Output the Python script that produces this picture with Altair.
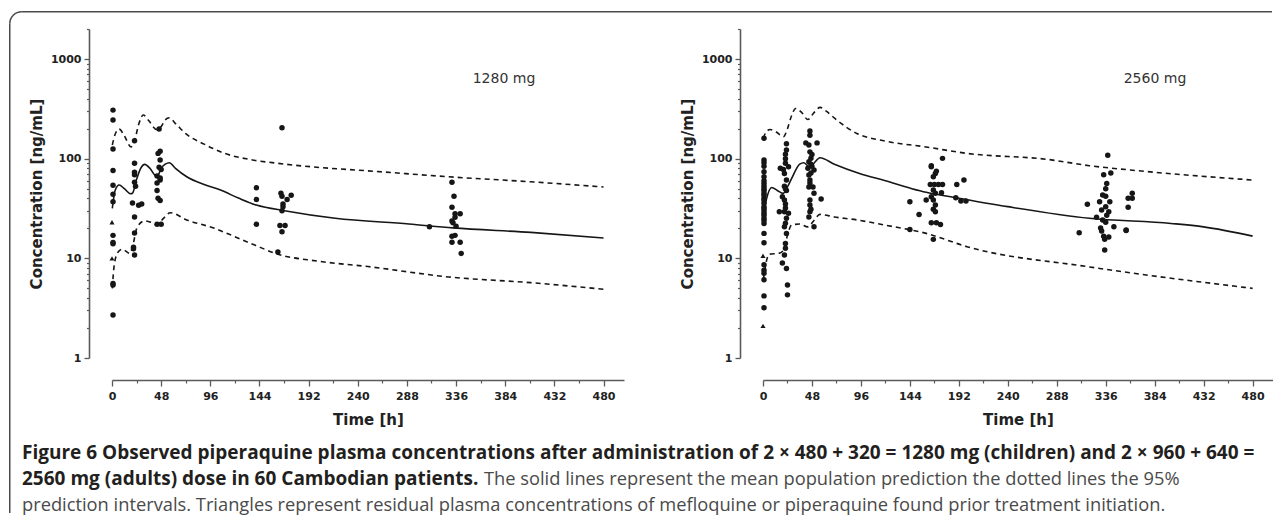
import altair as alt
import pandas as pd

# ---------------- data: left panel (1280 mg) ----------------
l_obs_t = [1, 1, 1, 1, 1, 1, 1, 1, 1, 1, 1, 1, 1,
           22, 22, 22, 22, 22, 23, 20, 26, 29, 22, 22, 21, 21, 22,
           46, 47, 45, 47, 46, 48, 44, 47, 47, 44, 44, 45, 47, 44, 48,
           141, 141, 141,
           166, 165, 166, 175, 171, 167, 167, 166, 164, 169, 166, 162,
           310,
           332, 334, 332, 335, 340, 335, 332, 333, 336, 332, 335, 332, 340, 341]
l_obs_c = [307, 244, 125, 76, 54, 44, 37, 17, 14.4, 14, 5.6, 5.4, 2.7,
           151, 90, 73, 69, 58, 53, 36, 34, 35, 26, 18, 12.9, 12.5, 10.8,
           198, 119, 113, 97, 82, 78, 67, 64, 61, 57, 48, 40, 38, 22, 22,
           51, 39, 22,
           204, 45, 42, 43, 39, 35, 33, 30, 21.4, 21.4, 18.5, 11.6,
           20.7,
           58, 42, 32.5, 28, 28, 25.8, 23.7, 22.8, 21, 16.7, 17, 14.5, 14.5, 11.2]
l_tri_t = [0, 0]
l_tri_c = [23, 10]
l_mean_t = [0.3, 3, 7, 12, 18, 20, 24, 28, 32, 37, 42, 44, 48, 52, 56, 62, 73, 90, 106,
            124, 141, 170, 218, 290, 333, 409, 480]
l_mean_c = [31.7, 48, 54.4, 50, 44.5, 45, 62, 80, 87.7, 80, 68, 65.8, 80, 88, 91, 80, 65.8, 55, 48.4,
            40, 34.2, 29.9, 25.2, 22.1, 20.2, 18.2, 16]
l_hi_t = [0.3, 3, 7, 12, 18.6, 22, 26, 30.6, 36, 43.7, 48, 52, 56, 62, 73, 90, 110, 135,
          162, 200, 250, 329, 409, 480]
l_hi_c = [137, 175, 198, 170, 131, 150, 220, 274, 240, 196, 210, 245, 257, 225, 175, 140, 113, 98,
          89.8, 82, 75.5, 65.8, 58.6, 52]
l_lo_t = [0.3, 2.2, 6, 10, 17.6, 20, 24.7, 32, 38, 43.7, 50, 57, 73, 100, 114, 140, 162,
          200, 250, 329, 409, 480]
l_lo_c = [5.0, 8.6, 11.6, 12.3, 11.2, 13, 20.7, 23.7, 23, 21.6, 25, 28.7, 24.3, 20, 17.5, 13.5, 11,
          9.4, 8.27, 6.5, 5.7, 4.9]

# ---------------- data: right panel (2560 mg) ----------------
r_obs_t = [1, 1, 1, 1, 1, 1, 1, 1, 1, 1, 1, 1, 1, 1, 1, 1, 1, 1, 1, 1, 1, 1, 1,
           1, 1, 1, 1, 1, 1, 1, 1, 1,
           23, 23, 22, 17, 20, 25, 21, 23, 21, 23, 19, 21, 16, 21, 25, 23, 21, 23, 22, 22,
           21, 19, 23, 24, 24, 22, 22, 22, 22, 22, 22,
           46, 46, 42, 53, 45, 46, 47, 45, 48, 44, 50, 45, 46, 49, 45, 50, 46, 46, 46, 45,
           50, 57, 48, 47, 47, 46, 47,
           144, 144, 153, 160, 165, 165, 169, 167, 164, 168, 172, 170, 167, 169, 165, 167,
           169, 167, 169, 165, 170, 174, 167, 176, 175, 176, 190, 197, 189, 194, 199,
           310, 318, 327, 338, 334, 341, 336, 337, 333, 336, 340, 330, 336, 332, 339, 337,
           333, 336, 331, 332, 334, 339, 335, 335, 344, 356, 356, 358, 362, 362, 358]
r_obs_c = [160, 97, 91, 84, 74, 66, 56.5, 53, 48, 45, 40, 35.6, 31.7, 28.3, 25.2, 22.4,
           17.8, 14.3, 7.6, 7.1, 6.1, 4.2, 3.2,
           60, 50, 43, 38, 33, 30, 27, 24, 8.6,
           141, 122, 111, 80, 78, 83, 71, 61, 53, 48, 41.5, 38.5, 29.4, 29.4, 28.3, 25.2,
           20.7, 17.8, 14.1, 12.6, 10.8, 9, 7.9, 5.4, 4.3, 100, 90, 50, 35, 32, 22.5,
           190, 172, 144, 144, 137, 117, 101, 93, 84, 80, 77, 68.5, 61, 52, 52, 45, 38.5,
           34.3, 29.4, 26, 20.7, 39.3, 110, 88, 72, 57, 31,
           36.9, 19.5, 27.6, 38.5, 84.8, 83, 71, 65.8, 55, 55, 55, 75, 48.4, 44.9, 41.5,
           38.5, 34.3, 31, 29.4, 22.8, 22.8, 21.9, 15.5, 100.7, 45.5, 55, 55, 61, 40.5,
           37.6, 37.6,
           18.1, 34.8, 25.8, 108, 69, 72, 50, 56.5, 43.2, 42, 37, 37, 32.9, 30.5, 29.4, 27,
           24.3, 23, 20.2, 18.8, 16.7, 16.4, 15.5, 12.1, 20.7, 19.2, 19, 40, 44.9, 40, 32.5]
r_tri_t = [0, 0]
r_tri_c = [10.6, 2.1]
r_mean_t = [0.5, 3.6, 8.5, 14, 19.9, 24, 28, 36, 40, 46, 50, 55.8, 70, 94.6, 120, 146,
            160, 184, 240, 320, 400, 432, 480]
r_mean_c = [28, 40, 51.4, 48, 44.9, 52, 63, 88, 91, 82, 90, 102, 88, 71, 60, 50,
            46, 41.5, 33, 25.2, 22.4, 20.7, 16.7]
r_hi_t = [0.3, 3, 7, 13, 20, 24, 28, 32, 38, 44, 50, 56, 62, 70.5, 92, 120, 160, 200,
          280, 320, 360, 480]
r_hi_c = [160, 185, 196, 185, 166, 200, 270, 319, 290, 247, 290, 327, 300, 253, 179, 150,
          131, 113, 98, 85, 77, 61]
r_lo_t = [0.3, 3.6, 6, 15, 20, 24, 28, 36, 44, 50, 55.8, 70, 92, 120, 160, 200, 320, 480]
r_lo_c = [6.1, 9.6, 11, 11.2, 12, 17, 21.6, 22.1, 20.7, 24, 27.6, 26, 24.3, 21.5, 17.8,
          13.1, 8.2, 5.0]

# ---------------- axes / text ----------------
x_major_ticks = [0, 48, 96, 144, 192, 240, 288, 336, 384, 432, 480]
x_minor_ticks = [24, 72, 120, 168, 216, 264, 312, 360, 408, 456]
y_major_ticks = [1, 10, 100, 1000]
y_minor_ticks = [2, 3, 4, 5, 6, 7, 8, 9, 20, 30, 40, 50, 60, 70, 80, 90,
                 200, 300, 400, 500, 600, 700, 800, 900, 2000]
x_title = "Time [h]"
y_title = "Concentration [ng/mL]"
doses = ["1280 mg", "2560 mg"]
cap1 = ("Figure 6 Observed piperaquine plasma concentrations after administration of "
        "2 \u00d7 480 + 320 = 1280 mg (children) and 2 \u00d7 960 + 640 =")
cap2_bold = "2560 mg (adults) dose in 60 Cambodian patients."
cap2_reg = "The solid lines represent the mean population prediction the dotted lines the 95%"
cap3 = ("prediction intervals. Triangles represent residual plasma concentrations of "
        "mefloquine or piperaquine found prior treatment initiation.")

X_DOMAIN = [0, 500]
Y_DOMAIN = [1, 2000]
W_L, W_R, H = 512, 510, 329
INK = "#161616"
AX = "#5a5a5a"
FONT = "DejaVu Sans"
CAP_FONT = "Open Sans"
one = pd.DataFrame({"k": [0]})


def panel(obs_t, obs_c, tri_t, tri_c, mean_t, mean_c, hi_t, hi_c, lo_t, lo_c,
          dose, width, extra=()):
    xs = alt.Scale(domain=X_DOMAIN, nice=False, zero=False)
    ys = alt.Scale(type="log", domain=Y_DOMAIN, nice=False)
    x_major = alt.Axis(orient="bottom", values=x_major_ticks, offset=22, tickSize=6,
                       tickWidth=1.3, tickColor=AX, domainColor=AX, domainWidth=1.6,
                       labelFont=FONT, labelFontWeight="bold", labelFontSize=11,
                       labelColor="#222", labelPadding=4, labelOverlap=False,
                       labelFlush=False, grid=False, title=x_title, titleFont=FONT,
                       titleFontSize=15, titleFontWeight="bold", titleColor="#222",
                       titlePadding=11, format="d")
    x_minor = alt.Axis(orient="bottom", values=x_minor_ticks, offset=22, tickSize=3,
                       tickWidth=1.2, tickColor=AX, domain=False, labels=False,
                       grid=False, title=None)
    y_major = alt.Axis(orient="left", values=y_major_ticks, offset=23, tickSize=5,
                       tickWidth=1.3, tickColor=AX, domainColor=AX, domainWidth=1.6,
                       labelFont=FONT, labelFontWeight="bold", labelFontSize=11,
                       labelColor="#222", labelPadding=3, labelOverlap=False,
                       labelFlush=False, grid=False, title=y_title, titleFont=FONT,
                       titleFontSize=15, titleFontWeight="bold", titleColor="#222",
                       titlePadding=6, format="d")
    y_minor = alt.Axis(orient="left", values=y_minor_ticks, offset=23, tickSize=2.5,
                       tickWidth=1.2, tickColor=AX, domain=False, labels=False,
                       grid=False, title=None)

    obs = pd.DataFrame({"t": obs_t, "c": obs_c})
    tri = pd.DataFrame({"t": tri_t, "c": tri_c})
    mean = pd.DataFrame({"t": mean_t, "c": mean_c})
    hi = pd.DataFrame({"t": hi_t, "c": hi_c})
    lo = pd.DataFrame({"t": lo_t, "c": lo_c})

    pts = alt.Chart(obs).mark_circle(size=30, color=INK, opacity=1).encode(
        x=alt.X("t:Q", scale=xs, axis=x_major),
        y=alt.Y("c:Q", scale=ys, axis=y_major))
    tris = alt.Chart(tri).mark_point(shape="triangle-up", filled=True, size=26,
                                     color=INK, opacity=1).encode(
        x=alt.X("t:Q", scale=xs, axis=None),
        y=alt.Y("c:Q", scale=ys, axis=None))
    mean_l = alt.Chart(mean).mark_line(color=INK, strokeWidth=1.6,
                                       interpolate="monotone").encode(
        x=alt.X("t:Q", scale=xs, axis=x_minor),
        y=alt.Y("c:Q", scale=ys, axis=y_minor))
    hi_l = alt.Chart(hi).mark_line(color=INK, strokeWidth=1.6, strokeDash=[5, 4],
                                   interpolate="monotone").encode(
        x=alt.X("t:Q", scale=xs, axis=None),
        y=alt.Y("c:Q", scale=ys, axis=None))
    lo_l = alt.Chart(lo).mark_line(color=INK, strokeWidth=1.6, strokeDash=[5, 4],
                                   interpolate="monotone").encode(
        x=alt.X("t:Q", scale=xs, axis=None),
        y=alt.Y("c:Q", scale=ys, axis=None))
    dose_t = alt.Chart(one).mark_text(text=dose, font=FONT, fontSize=14, color="#333",
                                      align="center", baseline="middle").encode(
        x=alt.value(392), y=alt.value(50))
    layers = [pts, tris, mean_l, hi_l, lo_l, dose_t] + list(extra)
    return alt.layer(*layers).properties(width=width, height=H).resolve_axis(
        x="independent", y="independent")


# frame (rounded top-left corner) and caption live in the left panel's layer
BX, BY, R = -102.25, -17.25, 12
FRAME = "#4a4a4a"
frame_top = alt.Chart(one).mark_rule(color=FRAME, strokeWidth=1.5).encode(
    x=alt.value(BX + R), x2=alt.value(1160), y=alt.value(BY))
frame_left = alt.Chart(one).mark_rule(color=FRAME, strokeWidth=1.5).encode(
    x=alt.value(BX), y=alt.value(BY + R), y2=alt.value(484))
frame_arc = alt.Chart(one).mark_arc(color=FRAME).encode(
    x=alt.value(BX + R), y=alt.value(BY + R),
    theta=alt.value(4.712389), theta2=alt.value(6.283185),
    radius=alt.value(R + 0.75), radius2=alt.value(R - 0.75))

CAP_X = -90
BOLD_SIZE = 19
REG_SIZE = 18.3
cap_l1 = alt.Chart(one).mark_text(text=cap1, font=CAP_FONT, fontSize=BOLD_SIZE, fontWeight="bold",
                                  color="#231f20", align="left", baseline="alphabetic").encode(
    x=alt.value(CAP_X), y=alt.value(430))
cap_l2b = alt.Chart(one).mark_text(text=cap2_bold, font=CAP_FONT, fontSize=BOLD_SIZE, fontWeight="bold",
                                   color="#231f20", align="left", baseline="alphabetic").encode(
    x=alt.value(CAP_X), y=alt.value(456))
cap_l2r = alt.Chart(one).mark_text(text=cap2_reg, font=CAP_FONT, fontSize=REG_SIZE,
                                   color="#4a4a4a", align="left", baseline="alphabetic").encode(
    x=alt.value(372), y=alt.value(456))
cap_l3 = alt.Chart(one).mark_text(text=cap3, font=CAP_FONT, fontSize=REG_SIZE,
                                  color="#4a4a4a", align="left", baseline="alphabetic").encode(
    x=alt.value(CAP_X), y=alt.value(482))

left = panel(l_obs_t, l_obs_c, l_tri_t, l_tri_c, l_mean_t, l_mean_c, l_hi_t, l_hi_c,
             l_lo_t, l_lo_c, doses[0], W_L,
             extra=[frame_top, frame_left, frame_arc, cap_l1, cap_l2b, cap_l2r, cap_l3])
right = panel(r_obs_t, r_obs_c, r_tri_t, r_tri_c, r_mean_t, r_mean_c, r_hi_t, r_hi_c,
              r_lo_t, r_lo_c, doses[1], W_R)

chart = alt.hconcat(left, right, spacing=139, bounds="flush").properties(
    padding={"left": 1, "top": 3, "right": 0, "bottom": 0},
    background="white",
).configure_view(stroke=None)

chart.save("out.html", embed_options={"renderer": "svg", "actions": False})
